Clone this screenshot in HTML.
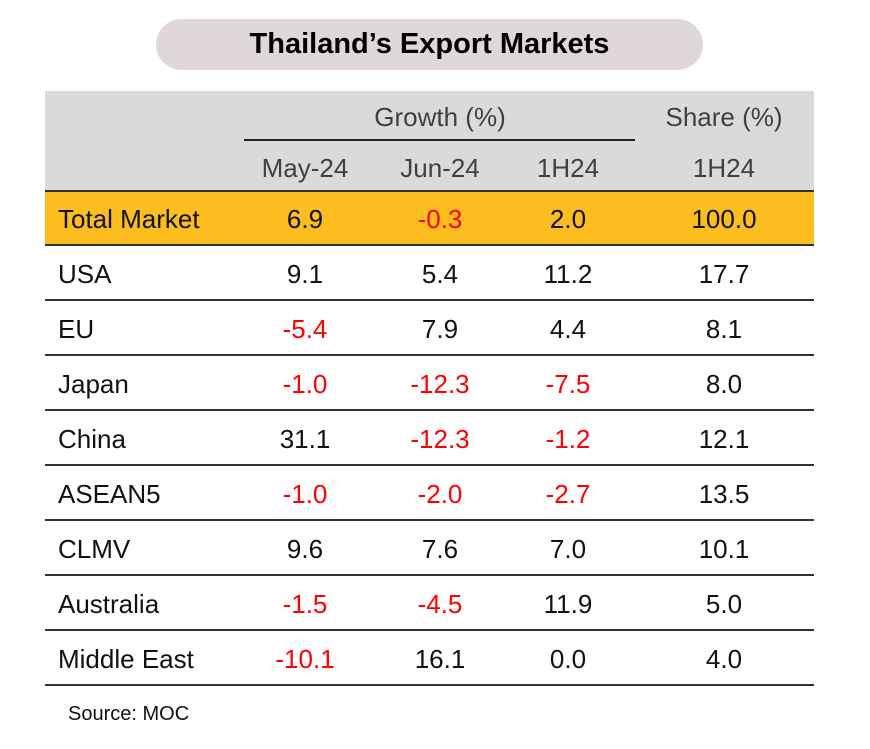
<!DOCTYPE html>
<html><head><style>
body{margin:0;width:870px;height:749px;background:#fff;position:relative;font-family:"Liberation Sans",sans-serif;overflow:hidden}
.pill{position:absolute;left:156px;top:19px;width:547px;height:51px;border-radius:26px;background:#e0d8d8;text-align:center;line-height:51px;font-weight:bold;font-size:29px;color:#000}
.hdr{position:absolute;left:45px;top:91px;width:769px;height:100px;background:#dadada}
.org{position:absolute;left:45px;top:191px;width:769px;height:54px;background:#fcbd1f}
.ln{position:absolute;left:45px;width:769px;height:2px;background:#333}
.t{position:absolute;font-size:26px;line-height:30px;color:#111;transform:translateX(-50%);white-space:nowrap}
.h{color:#404040}
.l{position:absolute;left:58px;font-size:26px;line-height:30px;color:#111;white-space:nowrap}
.r{color:#f00}
</style></head><body>
<div class="pill">Thailand’s Export Markets</div>
<div class="hdr"></div>
<div class="org"></div>
<div style="position:absolute;left:244px;top:139px;width:391px;height:2px;background:#222"></div>
<div class="t h" style="left:440px;top:102px">Growth (%)</div>
<div class="t h" style="left:724px;top:102px">Share (%)</div>
<div class="t h" style="left:305px;top:153px">May-24</div>
<div class="t h" style="left:440px;top:153px">Jun-24</div>
<div class="t h" style="left:568px;top:153px">1H24</div>
<div class="t h" style="left:724px;top:153px">1H24</div>
<div class="ln" style="top:190px"></div>
<div class="ln" style="top:244px"></div>
<div class="ln" style="top:299px"></div>
<div class="ln" style="top:354px"></div>
<div class="ln" style="top:409px"></div>
<div class="ln" style="top:464px"></div>
<div class="ln" style="top:519px"></div>
<div class="ln" style="top:574px"></div>
<div class="ln" style="top:629px"></div>
<div class="ln" style="top:684px"></div>
<div id="rows"></div>
<div style="position:absolute;left:68px;top:703px;font-size:20px;color:#111">Source: MOC</div>
<script>
var d=[["Total Market","6.9","-0.3","2.0","100.0"],["USA","9.1","5.4","11.2","17.7"],["EU","-5.4","7.9","4.4","8.1"],["Japan","-1.0","-12.3","-7.5","8.0"],["China","31.1","-12.3","-1.2","12.1"],["ASEAN5","-1.0","-2.0","-2.7","13.5"],["CLMV","9.6","7.6","7.0","10.1"],["Australia","-1.5","-4.5","11.9","5.0"],["Middle East","-10.1","16.1","0.0","4.0"]];
var xs=[305,440,568,724],h="";
d.forEach(function(r,i){var y=204+i*55;h+='<div class="l" style="top:'+y+'px">'+r[0]+'</div>';
for(var j=1;j<5;j++)h+='<div class="t'+(r[j][0]=='-'?' r':'')+'" style="left:'+xs[j-1]+'px;top:'+y+'px">'+r[j]+'</div>';});
document.getElementById("rows").innerHTML=h;
</script>
</body></html>
